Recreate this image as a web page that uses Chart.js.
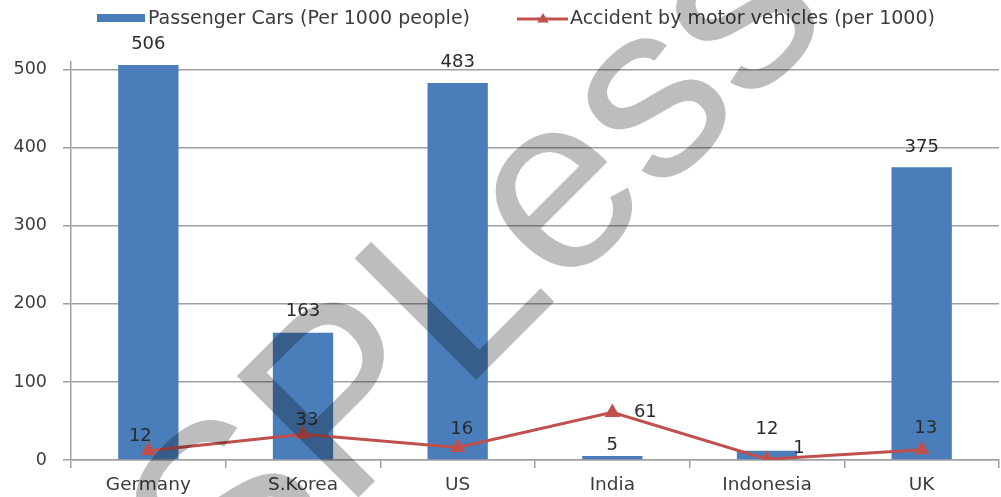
<!DOCTYPE html>
<html>
<head>
<meta charset="utf-8">
<script src="https://cdn.jsdelivr.net/npm/chart.js@4.4.1/dist/chart.umd.min.js"></script>
<style>
  html, body { margin: 0; padding: 0; background: #ffffff; }
  #wrap { width: 1001px; height: 497px; overflow: hidden; position: relative; }
  canvas { display: block; }
</style>
</head>
<body>
<div id="wrap"><canvas id="chart" width="1008" height="497"></canvas></div>
<script>
// Passenger cars and motor-vehicle accidents, per 1000 people
const categories = ['Germany', 'S.Korea', 'US', 'India', 'Indonesia', 'UK'];
const passengerCars = [506, 163, 483, 5, 12, 375];
const accidents = [12, 33, 16, 61, 1, 13];
const yTickValues = [0, 100, 200, 300, 400, 500];

const carsLabel = 'Passenger Cars (Per 1000 people)';
const accidentsLabel = 'Accident by motor vehicles (per 1000)';

const FONT = '"DejaVu Sans", sans-serif';
const MARK_FONT = '"Liberation Sans", Arial, sans-serif';
const TEXT = '#3c3c3c';
const BLUE = '#4a7ebb';
const RED = '#c0504d';
const GRID = '#a0a0a0';

// label placement around each mark: [dx, dy] from the mark's anchor
const barLabelOffset = [[0, -21], [0, -21], [0, -21], [0, -11], [0, -21], [0, -20]];
const lineLabelOffset = [[-8, -14], [4, -14], [4, -18], [33, 0], [32, -11], [4, -22]];

function drawTriangle(ctx, x, y, r) {
  ctx.beginPath();
  ctx.moveTo(x, y - r);
  ctx.lineTo(x + r * 0.95, y + r * 0.6);
  ctx.lineTo(x - r * 0.95, y + r * 0.6);
  ctx.closePath();
  ctx.fill();
}

const legendPlugin = {
  id: 'topLegend',
  afterDraw(chart) {
    const ctx = chart.ctx;
    ctx.save();
    ctx.font = '19px ' + FONT;
    ctx.textBaseline = 'middle';
    // bar entry
    ctx.fillStyle = BLUE;
    ctx.fillRect(97, 14, 48, 8);
    ctx.fillStyle = TEXT;
    ctx.fillText(carsLabel, 148, 19);
    // line entry
    ctx.strokeStyle = RED;
    ctx.lineWidth = 3;
    ctx.beginPath();
    ctx.moveTo(517, 19);
    ctx.lineTo(568, 19);
    ctx.stroke();
    ctx.fillStyle = RED;
    drawTriangle(ctx, 543, 19, 6);
    ctx.fillStyle = TEXT;
    ctx.fillText(accidentsLabel, 570, 19);
    ctx.restore();
  }
};

const valueLabelPlugin = {
  id: 'valueLabels',
  afterDatasetsDraw(chart) {
    const ctx = chart.ctx;
    ctx.save();
    ctx.font = '18px ' + FONT;
    ctx.fillStyle = '#2a2a2a';
    ctx.textAlign = 'center';
    ctx.textBaseline = 'middle';
    chart.data.datasets.forEach((ds, di) => {
      const meta = chart.getDatasetMeta(di);
      const offsets = ds.type === 'line' ? lineLabelOffset : barLabelOffset;
      meta.data.forEach((el, i) => {
        const [dx, dy] = offsets[i];
        ctx.fillText(String(ds.data[i]), el.x + dx, el.y + dy);
      });
    });
    ctx.restore();
  }
};

// semi-transparent site mark laid diagonally over the plot
const watermarkPlugin = {
  id: 'watermark',
  afterDraw(chart) {
    const fs = 250;
    const ang = 45 * Math.PI / 180;
    const ux = Math.cos(ang), uy = -Math.sin(ang);
    const off = document.createElement('canvas');
    off.width = chart.width;
    off.height = chart.height;
    const g = off.getContext('2d');
    g.fillStyle = '#bdbdbd';
    g.font = 'normal 400 ' + fs + 'px ' + MARK_FONT;
    const along = g.measureText('SP').width + 0.08 * fs;
    const ox = 476 - along * ux;
    const oy = 380 - along * uy;
    g.translate(ox, oy);
    g.rotate(-ang);
    g.fillText('SPLessons', 0, 0);
    const ctx = chart.ctx;
    ctx.save();
    ctx.globalCompositeOperation = 'multiply';
    ctx.drawImage(off, 0, 0);
    ctx.restore();
  }
};

function build() {
  new Chart(document.getElementById('chart'), {
    type: 'bar',
    data: {
      labels: categories,
      datasets: [
        {
          type: 'line',
          label: accidentsLabel,
          data: accidents,
          borderColor: RED,
          backgroundColor: RED,
          borderWidth: 3,
          pointStyle: 'triangle',
          pointRadius: 6,
          pointBackgroundColor: RED,
          pointBorderColor: RED,
          tension: 0,
          order: 0
        },
        {
          type: 'bar',
          label: carsLabel,
          data: passengerCars,
          backgroundColor: BLUE,
          categoryPercentage: 1,
          barPercentage: 0.39,
          order: 1
        }
      ]
    },
    options: {
      responsive: false,
      animation: false,
      devicePixelRatio: 1,
      layout: { padding: { top: 62, right: 1, left: 0, bottom: 0 } },
      plugins: { legend: { display: false }, tooltip: { enabled: false } },
      scales: {
        x: {
          offset: true,
          grid: { offset: true, drawOnChartArea: false, drawTicks: true, tickLength: 8, color: GRID, lineWidth: 1.5 },
          border: { display: true, color: GRID, width: 1.5 },
          ticks: { font: { family: FONT, size: 18.5 }, color: TEXT, padding: 6 },
          afterFit(scale) { scale.height = 37; }
        },
        y: {
          min: 0,
          max: 510,
          ticks: { stepSize: 100, font: { family: FONT, size: 17.5 }, color: TEXT, padding: 16 },
          afterBuildTicks(scale) {
            scale.ticks = yTickValues.map(v => ({ value: v }));
          },
          grid: { color: GRID, lineWidth: 1.5, tickLength: 8 },
          border: { display: true, color: GRID, width: 1.5 },
          afterFit(scale) { scale.width = 71; }
        }
      }
    },
    plugins: [legendPlugin, valueLabelPlugin, watermarkPlugin]
  });
}

Promise.all([
  document.fonts.load('250px "Liberation Sans"'),
  document.fonts.load('18px "DejaVu Sans"')
]).then(build, build);
</script>
</body>
</html>
